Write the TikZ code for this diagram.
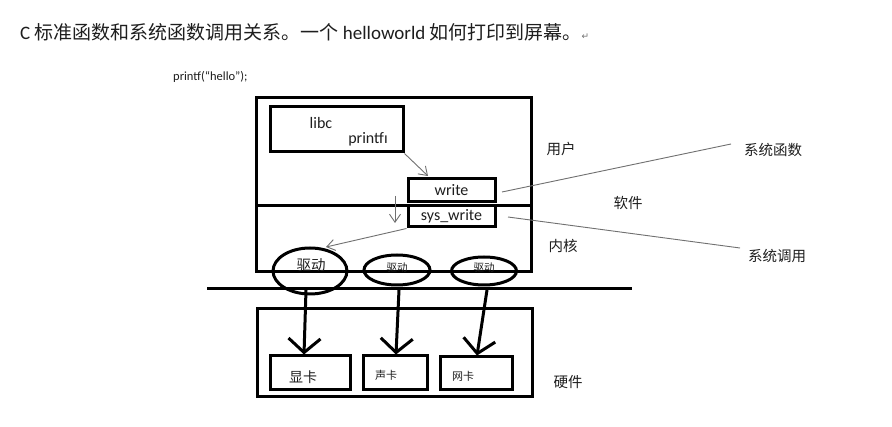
\documentclass[tikz,border=0pt]{standalone}
\usepackage{fontspec}
\setmainfont{Carlito}
\newfontfamily\cjk{Noto Sans CJK SC}
\newfontfamily\sym{DejaVu Sans}
\usetikzlibrary{arrows.meta,shapes.geometric}
\definecolor{ink}{HTML}{1E1E1E}
\definecolor{thin}{HTML}{707070}
\tikzset{
  thickline/.style={draw=black,line width=3pt},
  drv/.style={draw=black,line width=3pt,ellipse,inner sep=0pt},
  thinarrow/.style={draw=thin,line width=0.9pt,-{Straight Barb[length=8pt,width=11pt,line width=0.9pt]}},
  thinline/.style={draw=thin,line width=0.9pt},
  fatarrow/.style={draw=black,line width=3pt,-{Straight Barb[length=14pt,width=32pt,line width=3pt]}},
  lab/.style={text=ink,inner sep=0pt,font=\cjk\fontsize{14.5}{16}\selectfont},
  lat/.style={text=ink,inner sep=0pt},
}
\begin{document}
\begin{tikzpicture}[x=1pt,y=-1pt]
\useasboundingbox[fill=white] (0,0) rectangle (892,427);
% title
\node[lat,anchor=west,font=\fontsize{19}{22}\selectfont] (title) at (20,32)
  {C {\cjk 标准函数和系统函数调用关系。一个} helloworld {\cjk 如何打印到屏幕。}{\sym\fontsize{9}{10}\selectfont\color{thin}↵}};
\node[lat,anchor=west,font=\fontsize{12.5}{14}\selectfont] (code) at (173,77) {printf(“hello”);};
% main boxes
\draw[thickline] (256,98) rectangle (531,272);
\coordinate (divL) at (256,206);
\coordinate (divR) at (531,206);
\draw[thickline] (divL) -- (divR);
\node[draw=black,line width=3pt,minimum width=133pt,minimum height=45pt,inner sep=0pt] (libc) at (336.5,129.5) {};
\node[lat,font=\fontsize{16}{18}\selectfont] (libct) at (321,123) {libc};
\node[lat,font=\fontsize{16}{18}\selectfont] (printft) at (368,139) {printfı};
\node[draw=black,line width=3pt,minimum width=87pt,minimum height=23pt,inner sep=0pt,font=\fontsize{16}{18}\selectfont,text=ink] (write) at (451.5,190.5) {write};
\node[draw=black,line width=3pt,minimum width=87pt,minimum height=21pt,inner sep=0pt,font=\fontsize{16}{18}\selectfont,text=ink] (sysw) at (451.5,216.5) {sys\_write};
% drivers
\node[drv,minimum width=74pt,minimum height=46pt] (d1) at (310,271) {};
\node[lat,font=\cjk\fontsize{14.5}{16}\selectfont] (d1t) at (311,265) {驱动};
\node[drv,minimum width=66pt,minimum height=30pt] (d2) at (397,270) {};
\node[lat,font=\cjk\fontsize{10.5}{12}\selectfont] (d2t) at (397,268) {驱动};
\node[drv,minimum width=65pt,minimum height=28pt] (d3) at (484,271) {};
\node[lat,font=\cjk\fontsize{10.5}{12}\selectfont] (d3t) at (484,268) {驱动};
\coordinate (hlL) at (207,289);
\coordinate (hlR) at (632,289);
\draw[thickline] (hlL) -- (hlR);
% hardware
\draw[thickline] (257,309) rectangle (532,397);
\node[draw=black,line width=3pt,minimum width=80pt,minimum height=34pt,inner sep=0pt] (gpu) at (310,373) {};
\node[lat,font=\cjk\fontsize{14}{16}\selectfont] (gput) at (303,377) {显卡};
\node[draw=black,line width=3pt,minimum width=64pt,minimum height=34pt,inner sep=0pt] (snd) at (395,373) {};
\node[lat,font=\cjk\fontsize{11}{12}\selectfont] (sndt) at (386,375) {声卡};
\node[draw=black,line width=3pt,minimum width=72pt,minimum height=33pt,inner sep=0pt] (net) at (476,373.5) {};
\node[lat,font=\cjk\fontsize{11}{12}\selectfont] (nett) at (463,376) {网卡};
% arrows
\coordinate (a1) at (306,290);
\coordinate (a2) at (399,290);
\coordinate (a3) at (487,290);
\draw[fatarrow] (a1) -- (gpu.north -| 304,0);
\draw[fatarrow] (a2) -- (snd.north -| 396,0);
\draw[fatarrow] (a3) -- (net.north -| 477,0);
\coordinate (wtop) at (428,176);
\draw[thinarrow] (libc.south east) -- (wtop);
\coordinate (dnA) at (395,196);
\coordinate (dnB) at (395,223);
\draw[thinarrow] (dnA) -- (dnB);
\coordinate (d1top) at (326,247);
\draw[thinarrow] (sysw.south west) -- (d1top);
% labels
\node[lab] (user) at (561,149) {用户};
\node[lab] (soft) at (628,203) {软件};
\node[lab] (kern) at (563,246) {内核};
\node[lab] (hw) at (568,382) {硬件};
\node[lab] (sysf) at (773,150) {系统函数};
\node[lab] (sysc) at (777,256) {系统调用};
\coordinate (l1a) at (502,192);
\coordinate (l1b) at (731,144);
\draw[thinline] (l1a) -- (l1b);
\coordinate (l2a) at (508,217);
\coordinate (l2b) at (740,248);
\draw[thinline] (l2a) -- (l2b);
\end{tikzpicture}
\end{document}
